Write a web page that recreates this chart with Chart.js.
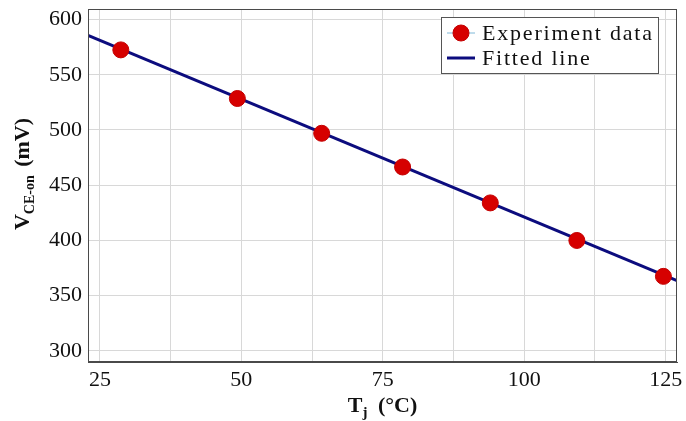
<!DOCTYPE html>
<html>
<head>
<meta charset="utf-8">
<script src="https://cdn.jsdelivr.net/npm/chart.js@4"></script>
<style>
  html, body { margin: 0; padding: 0; background: #fff; }
  #wrap { width: 686px; height: 421px; }
</style>
</head>
<body>
<div id="wrap"><canvas id="vceChart" width="686" height="421"></canvas></div>
<script>
// measured points
const tempC = [28.7, 49.3, 64.2, 78.5, 94.0, 109.3, 124.6];
const vceOn = [572.5, 528.5, 497, 466.5, 434, 400, 367.5];

// fitted line end points
const fitT = [22.9, 127.0];
const fitV = [585.6, 363.6];

// axis ticks
const xGrid = [25, 37.5, 50, 62.5, 75, 87.5, 100, 112.5, 125];
const xLabels = [25, 50, 75, 100, 125];
const yTicks = [300, 350, 400, 450, 500, 550, 600];

const serif = '"Liberation Serif", "Times New Roman", serif';
const red = '#d60000';
const navy = '#0c0c7e';

// frame, axis titles and legend drawn on top
const decor = {
  id: 'decor',
  afterDraw(chart) {
    const ctx = chart.ctx;
    const a = chart.chartArea;
    ctx.save();

    // box around plot
    ctx.strokeStyle = '#4a4a4a';
    ctx.lineWidth = 1;
    ctx.strokeRect(a.left + 0.5, a.top + 0.5, a.right - a.left - 1, a.bottom - a.top - 1);

    ctx.fillStyle = '#111';
    ctx.textBaseline = 'alphabetic';

    // x title: T_j (°C)
    const big = 'bold 22px ' + serif;
    const small = 'bold 15px ' + serif;
    ctx.font = big; const w1 = ctx.measureText('T').width;
    ctx.font = small; const w2 = ctx.measureText('j').width + 5;
    ctx.font = big; const w3 = ctx.measureText(' (°C)').width;
    let x = (a.left + a.right) / 2 - (w1 + w2 + w3) / 2;
    const yb = 412;
    ctx.font = big; ctx.fillText('T', x, yb);
    ctx.font = small; ctx.fillText('j', x + w1, yb + 5);
    ctx.font = big; ctx.fillText(' (°C)', x + w1 + w2, yb);

    // y title: V_CE-on (mV)
    ctx.save();
    ctx.translate(29, 174);
    ctx.rotate(-Math.PI / 2);
    ctx.font = big; const v1 = ctx.measureText('V').width;
    ctx.font = 'bold 14px ' + serif; const v2 = ctx.measureText('CE-on').width + 3;
    ctx.font = big; const v3 = ctx.measureText(' (mV)').width;
    x = -(v1 + v2 + v3) / 2;
    ctx.font = big; ctx.fillText('V', x, 0);
    ctx.font = 'bold 14px ' + serif; ctx.fillText('CE-on', x + v1, 5);
    ctx.font = big; ctx.fillText(' (mV)', x + v1 + v2, 0);
    ctx.restore();

    // legend
    const bx = a.right - 236, by = a.top + 8, bw = 217, bh = 56;
    ctx.fillStyle = '#fff';
    ctx.fillRect(bx, by, bw, bh);
    ctx.strokeStyle = '#555';
    ctx.lineWidth = 1;
    ctx.strokeRect(bx + 0.5, by + 0.5, bw, bh);
    const sets = chart.data.datasets;
    const rows = [by + 16, by + 41];
    sets.forEach((ds, i) => {
      const ry = rows[i];
      if (ds.showLine === false) {
        ctx.strokeStyle = '#7fb8d8';
        ctx.lineWidth = 1;
        ctx.beginPath(); ctx.moveTo(bx + 6, ry); ctx.lineTo(bx + 34, ry); ctx.stroke();
        ctx.fillStyle = ds.backgroundColor;
        ctx.strokeStyle = ds.borderColor;
        ctx.beginPath(); ctx.arc(bx + 20, ry, 8, 0, Math.PI * 2); ctx.fill(); ctx.stroke();
      } else {
        ctx.strokeStyle = ds.borderColor;
        ctx.lineWidth = 3;
        ctx.beginPath(); ctx.moveTo(bx + 6, ry); ctx.lineTo(bx + 34, ry); ctx.stroke();
      }
      ctx.fillStyle = '#111';
      ctx.font = '22px ' + serif;
      ctx.letterSpacing = '1.8px';
      ctx.textBaseline = 'middle';
      ctx.fillText(ds.label, bx + 41, ry + 1);
      ctx.letterSpacing = '0px';
    });
    ctx.restore();
  }
};

new Chart(document.getElementById('vceChart').getContext('2d'), {
  type: 'scatter',
  data: {
    datasets: [
      {
        label: 'Experiment data',
        data: tempC.map((t, i) => ({ x: t, y: vceOn[i] })),
        showLine: false,
        backgroundColor: red,
        borderColor: '#c40000',
        borderWidth: 1,
        pointRadius: 8,
        pointHoverRadius: 8,
        order: 1
      },
      {
        label: 'Fitted line',
        data: fitT.map((t, i) => ({ x: t, y: fitV[i] })),
        showLine: true,
        borderColor: navy,
        borderWidth: 3,
        pointRadius: 0,
        order: 2
      }
    ]
  },
  options: {
    responsive: false,
    animation: false,
    layout: { padding: { left: 0, right: 8, top: 7, bottom: 0 } },
    plugins: {
      legend: { display: false },
      tooltip: { enabled: false }
    },
    scales: {
      x: {
        type: 'linear',
        min: 22.9,
        max: 127.0,
        afterBuildTicks(scale) { scale.ticks = xGrid.map(v => ({ value: v })); },
        afterFit(scale) { scale.height = 59; scale.paddingLeft = 0; scale.paddingRight = 0; },
        grid: { color: '#d8d8d8', lineWidth: 1, drawTicks: false },
        border: { color: '#4a4a4a' },
        ticks: {
          autoSkip: false,
          maxRotation: 0,
          padding: 5,
          color: '#111',
          font: { family: serif, size: 22 },
          callback: v => (xLabels.includes(v) ? String(v) : '')
        }
      },
      y: {
        min: 290,
        max: 609.5,
        afterBuildTicks(scale) { scale.ticks = yTicks.map(v => ({ value: v })); },
        afterFit(scale) { scale.width = 88; scale.paddingTop = 0; scale.paddingBottom = 0; },
        grid: { color: '#d8d8d8', lineWidth: 1, drawTicks: false },
        border: { color: '#4a4a4a' },
        ticks: {
          padding: 6,
          color: '#111',
          font: { family: serif, size: 22 }
        }
      }
    }
  },
  plugins: [decor]
});
</script>
</body>
</html>
